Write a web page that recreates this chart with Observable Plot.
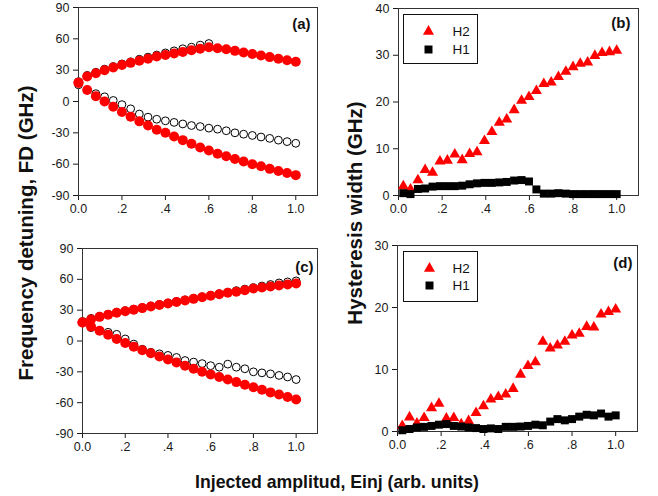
<!DOCTYPE html>
<html>
<head>
<meta charset="utf-8">
<script src="https://cdn.jsdelivr.net/npm/d3@7"></script>
<script src="https://cdn.jsdelivr.net/npm/@observablehq/plot@0.6"></script>
<style>
  html, body { margin: 0; padding: 0; background: #fff; }
  #root { position: relative; width: 658px; height: 496px; overflow: hidden; font-family: "Liberation Sans", Arial, sans-serif; }
  #root > .panel { position: absolute; }
  #titles { position: absolute; left: 0; top: 0; pointer-events: none; }
</style>
</head>
<body>
<div id="root"></div>
<script>
// ---------- data ----------
const xTicks = [0, 0.2, 0.4, 0.6, 0.8, 1.0];
const xTickLabels = ["0.0", ".2", ".4", ".6", ".8", "1.0"];
const fdTicks = [-90, -60, -30, 0, 30, 60, 90];
const hbTicks = [0, 10, 20, 30, 40];
const hdTicks = [0, 10, 20, 30];

// panels (a) and (c): injected amplitude steps
const xFD = [0, 0.04, 0.08, 0.12, 0.16, 0.2, 0.24, 0.28, 0.32, 0.36, 0.4, 0.44, 0.48,
             0.52, 0.56, 0.6, 0.64, 0.68, 0.72, 0.76, 0.8, 0.84, 0.88, 0.92, 0.96, 1.0];

// (a)
const aRedUpper  = [18, 24, 27, 30, 32.5, 35, 37, 39, 41, 43, 44.5, 46, 47.5, 49, 50.5, 52,
                    51, 50, 48.5, 47, 45.5, 44, 42.5, 41, 39.5, 38];
const aRedLower  = [18, 11, 5, 0, -5, -10, -14.5, -19, -23, -27, -30, -33.5, -37, -40.5, -44, -47,
                    -50, -52.5, -55, -57.5, -60, -62, -64.5, -66.5, -68.5, -70.5];
const aOpenUpper = [19, 25, 28, 31, 33.5, 36, 38, 40.5, 42.5, 44.5, 46.5, 48.5, 50.5, 52, 54, 55.5];
const aOpenLower = [16, 11, 7.5, 4.5, 1, -3, -7, -12, -15, -17, -18.5, -20, -21.5, -23, -24, -25.5,
                    -26.5, -28, -30, -31.3, -32.5, -34, -35.3, -37, -38.4, -40];

// (c)
const cRedUpper  = [18, 21, 23.5, 25.5, 27.5, 29, 30.5, 32, 33.5, 35, 36.5, 38, 39.5, 41, 42.5, 44,
                    45.5, 47, 48, 49.5, 51, 52, 53, 54, 55, 56];
const cRedLower  = [18, 14, 10, 6, 2, -2, -5.5, -9, -12, -15, -18, -21, -24, -27, -30, -32.5,
                    -35, -37.5, -40, -42.5, -45, -47.5, -50, -52, -54.5, -57];
const cOpenUpper = [19, 22, 24, 26, 28, 29.5, 31, 32.5, 34, 35.5, 37, 38.5, 40, 41.5, 43, 44.5,
                    46, 47.5, 49, 50.5, 52, 53.5, 55, 56.5, 57.5, 58.5];
const cOpenLower = [18, 13, 10, 8.5, 6.5, 2, -3, -8, -11, -12.5, -14, -16, -19, -20.5, -22, -24,
                    -25.5, -22.5, -25.5, -27, -30, -31, -32, -33.5, -35, -37.5];

// panels (b) and (d): hysteresis width
const xH = [0.022, 0.055, 0.089, 0.122, 0.156, 0.19, 0.224, 0.258, 0.292, 0.326, 0.36, 0.394,
            0.428, 0.462, 0.496, 0.53, 0.564, 0.598, 0.632, 0.666, 0.7, 0.733, 0.767, 0.8,
            0.833, 0.867, 0.9, 0.933, 0.967, 1.0];
const bH2 = [2.0, 1.3, 3.3, 5.5, 4.9, 7.3, 7.5, 8.8, 7.6, 8.9, 9.3, 11.7, 13.6, 15.6, 16.3,
             18.3, 20.3, 21.1, 22.4, 23.9, 24.2, 25.4, 26.5, 27.5, 28.2, 28.5, 29.9, 30.5, 30.7, 31.0];
const bH1 = [0.5, 0.3, 1.4, 1.5, 1.9, 2.0, 2.0, 2.0, 2.1, 2.4, 2.6, 2.7, 2.7, 2.8, 2.9,
             3.2, 3.3, 3.0, 1.3, 0.4, 0.4, 0.5, 0.4, 0.3, 0.3, 0.3, 0.3, 0.3, 0.3, 0.3];
const dH2 = [0.9, 2.3, 1.3, 2.2, 3.8, 4.5, 2.1, 2.2, 1.2, 1.7, 3.0, 4.1, 5.2, 5.6, 6.0,
             6.9, 9.2, 10.6, 11.2, 14.5, 13.4, 13.9, 14.5, 15.5, 15.8, 16.9, 16.8, 18.9, 19.3, 19.7];
const dH1 = [0.2, 0.4, 0.65, 0.75, 0.9, 1.1, 1.2, 0.9, 0.8, 0.65, 0.55, 0.4, 0.5, 0.4, 0.75,
             0.75, 0.8, 0.9, 1.1, 1.0, 1.6, 2.0, 1.8, 2.0, 2.4, 2.7, 2.6, 2.9, 2.4, 2.6];

const seriesNames = ["H2", "H1"];
const panelLabels = ["(a)", "(b)", "(c)", "(d)"];

// ---------- helpers ----------
const RED = "#ff0000";
const FONT = "'Liberation Sans', Arial, sans-serif";
const pts = (xs, ys) => ys.map((y, i) => ({x: xs[i], y}));
const xFmt = d => xTickLabels[xTicks.indexOf(d)];
const R_RED = 5.0, R_OPEN = 3.9, R_TRI = 4.1, R_SQ = 4.5;

function baseOpts(o) {
  return {
    width: o.width, height: o.height,
    marginLeft: o.ml, marginRight: o.mr, marginTop: o.mt, marginBottom: o.mb,
    style: {fontFamily: FONT, fontSize: "12.5px", color: "#1a1a1a", background: "transparent", overflow: "visible"},
    x: {domain: [0, 1.1], ticks: xTicks, tickFormat: xFmt, tickSize: 5, tickPadding: 4, label: null},
    y: {domain: o.ydomain, ticks: o.yticks, tickFormat: d => String(d), tickSize: 5, tickPadding: 4, label: null}
  };
}

function labelMark(txt, dx, dy) {
  return Plot.text([txt], {frameAnchor: "top-right", text: d => d, dx, dy,
    textAnchor: "end", lineAnchor: "middle", fontWeight: "bold", fontSize: 15, fill: "#111"});
}

function fdPlot(o, redU, redL, openU, openL, label) {
  const opts = baseOpts(o);
  opts.marks = [
    Plot.frame({stroke: "#333"}),
    Plot.dot(pts(xFD, openU), {x: "x", y: "y", r: R_OPEN, fill: "white", stroke: "black", strokeWidth: 1}),
    Plot.dot(pts(xFD, openL), {x: "x", y: "y", r: R_OPEN, fill: "white", stroke: "black", strokeWidth: 1}),
    Plot.dot(pts(xFD, redU), {x: "x", y: "y", r: R_RED, fill: RED, stroke: "none"}),
    Plot.dot(pts(xFD, redL), {x: "x", y: "y", r: R_RED, fill: RED, stroke: "none"}),
    labelMark(label, o.ldx, o.ldy)
  ];
  return Plot.plot(opts);
}

function hPlot(o, h2, h1, label, leg) {
  const opts = baseOpts(o);
  opts.marks = [
    Plot.frame({stroke: "#333"}),
    Plot.dot(pts(xH, h2), {x: "x", y: "y", r: R_TRI, symbol: "triangle", fill: RED, stroke: "none"}),
    Plot.dot(pts(xH, h1), {x: "x", y: "y", r: R_SQ, symbol: "square", fill: "black", stroke: "none"}),
    labelMark(label, o.ldx, o.ldy),
    // legend box and entries, placed relative to the frame
    Plot.frame({stroke: "#111", strokeWidth: 1, insetLeft: leg.l, insetTop: leg.t, insetRight: leg.r, insetBottom: leg.b}),
    Plot.dot([seriesNames[0]], {frameAnchor: "top-left", dx: leg.sx, dy: leg.y1, r: R_TRI, symbol: "triangle", fill: RED}),
    Plot.dot([seriesNames[1]], {frameAnchor: "top-left", dx: leg.sx, dy: leg.y2, r: R_SQ, symbol: "square", fill: "black"}),
    Plot.text([seriesNames[0]], {frameAnchor: "top-left", text: d => d, dx: leg.tx, dy: leg.y1, textAnchor: "start", lineAnchor: "middle", fontSize: 13.5, fill: "#111"}),
    Plot.text([seriesNames[1]], {frameAnchor: "top-left", text: d => d, dx: leg.tx, dy: leg.y2, textAnchor: "start", lineAnchor: "middle", fontSize: 13.5, fill: "#111"})
  ];
  return Plot.plot(opts);
}

const root = document.getElementById("root");
function place(el, left, top) {
  el.classList.add("panel");
  el.style.position = "absolute";
  el.style.left = left + "px";
  el.style.top = top + "px";
  root.appendChild(el);
}

// (a)
place(fdPlot({width: 330, height: 222, ml: 78, mr: 13, mt: 7, mb: 27, ydomain: [-90, 90], yticks: fdTicks, ldx: -7, ldy: 17},
  aRedUpper, aRedLower, aOpenUpper, aOpenLower, panelLabels[0]), 0, 0);
// (b)
place(hPlot({width: 328, height: 222, ml: 68, mr: 20, mt: 8, mb: 27, ydomain: [0, 40], yticks: hbTicks, ldx: -8, ldy: 15},
  bH2, bH1, panelLabels[1], {l: 5, t: 6, r: 161, b: 132, sx: 30, tx: 54, y1: 23, y2: 41}), 330, 0);
// (c)
place(fdPlot({width: 330, height: 230, ml: 82, mr: 13, mt: 20, mb: 25, ydomain: [-90, 90], yticks: fdTicks, ldx: -4, ldy: 19},
  cRedUpper, cRedLower, cOpenUpper, cOpenLower, panelLabels[2]), 0, 228);
// (d)
place(hPlot({width: 328, height: 230, ml: 67, mr: 21, mt: 17, mb: 27, ydomain: [0, 30], yticks: hdTicks, ldx: -5, ldy: 18},
  dH2, dH1, panelLabels[3], {l: 6, t: 6, r: 160, b: 130, sx: 32, tx: 55, y1: 23, y2: 40}), 330, 228);

// axis titles
const ns = "http://www.w3.org/2000/svg";
const tsvg = document.createElementNS(ns, "svg");
tsvg.setAttribute("id", "titles");
tsvg.setAttribute("width", 658);
tsvg.setAttribute("height", 496);
function addText(txt, transform, size) {
  const t = document.createElementNS(ns, "text");
  t.setAttribute("transform", transform);
  t.setAttribute("text-anchor", "middle");
  t.setAttribute("font-family", FONT);
  t.setAttribute("font-weight", "bold");
  t.setAttribute("font-size", size);
  t.setAttribute("fill", "#111");
  t.textContent = txt;
  tsvg.appendChild(t);
}
addText("Frequency detuning, FD (GHz)", "translate(33,233) rotate(-90)", 20.5);
addText("Hysteresis width (GHz)", "translate(362,213) rotate(-90)", 20.5);
addText("Injected amplitud, Einj (arb. units)", "translate(337,488)", 17.7);
root.appendChild(tsvg);
</script>
</body>
</html>
